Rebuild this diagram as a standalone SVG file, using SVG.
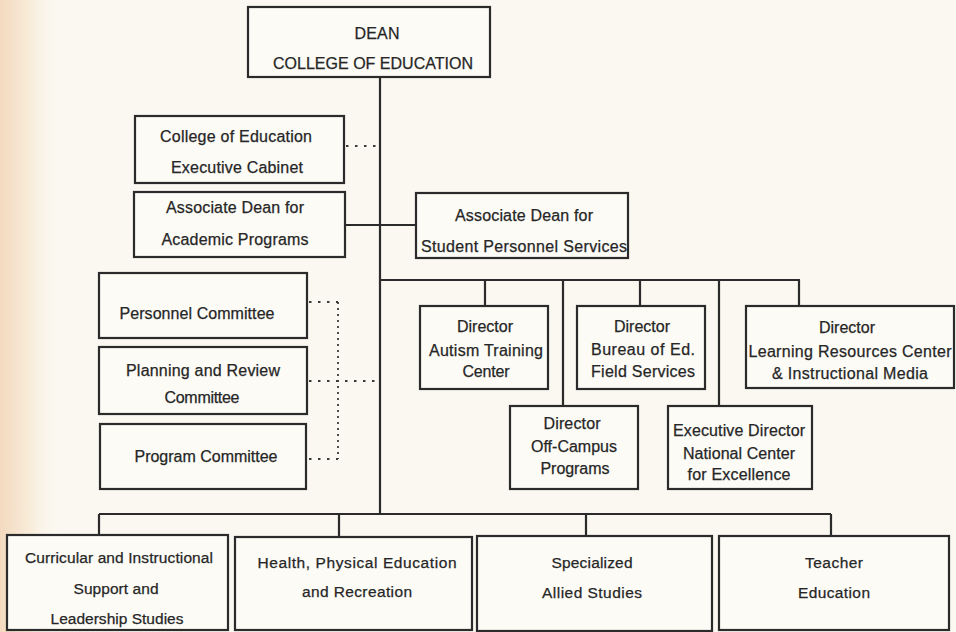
<svg xmlns="http://www.w3.org/2000/svg" width="956" height="632" viewBox="0 0 956 632">
<defs>
<linearGradient id="scan" x1="0" y1="0" x2="1" y2="0">
<stop offset="0" stop-color="#f3d9bf"/>
<stop offset="0.5" stop-color="#f8ecd9"/>
<stop offset="1" stop-color="#faf8f0" stop-opacity="0"/>
</linearGradient>
<style>
.bg{fill:#faf8f0}
.box{fill:#fcfbf6;stroke:#2b2b2b;stroke-width:2.2}
.ln{stroke:#2b2b2b;stroke-width:2.2;fill:none}
.dot{stroke:#3a3a3a;stroke-width:1.8;fill:none;stroke-dasharray:2 4}
.dotw{stroke:#3a3a3a;stroke-width:1.8;fill:none;stroke-dasharray:2.5 6.5}
text{font-family:"Liberation Sans",Arial,sans-serif;font-size:16px;fill:#262626;stroke:#262626;stroke-width:0.25;text-anchor:middle}
.sm{font-size:15.5px}
</style>
</defs>
<rect class="bg" x="0" y="0" width="956" height="632"/>
<rect x="0" y="0" width="60" height="632" fill="url(#scan)"/>
<g id="connectors">
<path class="ln" d="M380 77V514"/>
<path class="dotw" d="M346 146H380"/>
<path class="ln" d="M345 225H416"/>
<path class="ln" d="M380 280H800"/>
<path class="ln" d="M485 280V306M563 280V406M640 280V306M719 280V406M799 280V306"/>
<path class="dot" d="M338 302V459"/>
<path class="dotw" d="M309 302H338M309 459H338M309 381H380"/>
<path class="ln" d="M99 514H831M99 514V535M339 514V537M586 514V536M831 514V536"/>
</g>
<g id="dean"><rect class="box" x="248" y="7" width="242" height="70"/>
<text x="377" y="39" textLength="45" lengthAdjust="spacing">DEAN</text>
<text x="373" y="69" textLength="200" lengthAdjust="spacing">COLLEGE OF EDUCATION</text></g>
<g id="cabinet"><rect class="box" x="135" y="116" width="209" height="67"/>
<text x="236" y="142" textLength="152" lengthAdjust="spacing">College of Education</text>
<text x="237" y="173" textLength="132" lengthAdjust="spacing">Executive Cabinet</text></g>
<g id="assoc-academic"><rect class="box" x="134" y="192" width="211" height="65"/>
<text x="235" y="213" textLength="138" lengthAdjust="spacing">Associate Dean for</text>
<text x="235" y="245" textLength="147" lengthAdjust="spacing">Academic Programs</text></g>
<g id="assoc-student"><rect class="box" x="416" y="193" width="212" height="65"/>
<text x="524" y="221" textLength="138" lengthAdjust="spacing">Associate Dean for</text>
<text x="524" y="252" textLength="206" lengthAdjust="spacing">Student Personnel Services</text></g>
<g id="personnel"><rect class="box" x="99" y="273" width="208" height="65"/>
<text x="197" y="319" textLength="155" lengthAdjust="spacing">Personnel Committee</text></g>
<g id="planning"><rect class="box" x="99" y="347" width="208" height="67"/>
<text x="203" y="376" textLength="154" lengthAdjust="spacing">Planning and Review</text>
<text x="202" y="403" textLength="75" lengthAdjust="spacing">Committee</text></g>
<g id="program"><rect class="box" x="100" y="424" width="206" height="65"/>
<text x="206" y="462" textLength="143" lengthAdjust="spacing">Program Committee</text></g>
<g id="autism"><rect class="box" x="420" y="306" width="128" height="83"/>
<text x="485" y="332" textLength="56" lengthAdjust="spacing">Director</text>
<text x="486" y="356" textLength="114" lengthAdjust="spacing">Autism Training</text>
<text x="486" y="377" textLength="47" lengthAdjust="spacing">Center</text></g>
<g id="bureau"><rect class="box" x="577" y="306" width="128" height="83"/>
<text x="642" y="332" textLength="56" lengthAdjust="spacing">Director</text>
<text x="643" y="355" textLength="104" lengthAdjust="spacing">Bureau of Ed.</text>
<text x="643" y="377" textLength="104" lengthAdjust="spacing">Field Services</text></g>
<g id="learning"><rect class="box" x="746" y="306" width="208" height="82"/>
<text x="847" y="333" textLength="56" lengthAdjust="spacing">Director</text>
<text x="850" y="357" textLength="203" lengthAdjust="spacing">Learning Resources Center</text>
<text x="850" y="379" textLength="156" lengthAdjust="spacing">&amp; Instructional Media</text></g>
<g id="offcampus"><rect class="box" x="510" y="406" width="128" height="83"/>
<text x="572" y="429" textLength="57" lengthAdjust="spacing">Director</text>
<text x="574" y="452" textLength="86" lengthAdjust="spacing">Off-Campus</text>
<text x="575" y="474" textLength="69" lengthAdjust="spacing">Programs</text></g>
<g id="national"><rect class="box" x="668" y="406" width="144" height="83"/>
<text x="739" y="436" textLength="132" lengthAdjust="spacing">Executive Director</text>
<text x="739" y="459" textLength="112" lengthAdjust="spacing">National Center</text>
<text x="739" y="480" textLength="103" lengthAdjust="spacing">for Excellence</text></g>
<g id="curricular"><rect class="box" x="7" y="535" width="221" height="95"/>
<text class="sm" x="119" y="563" textLength="188" lengthAdjust="spacing">Curricular and Instructional</text>
<text class="sm" x="116" y="594" textLength="85" lengthAdjust="spacing">Support and</text>
<text class="sm" x="117" y="624" textLength="133" lengthAdjust="spacing">Leadership Studies</text></g>
<g id="health"><rect class="box" x="235" y="537" width="237" height="93"/>
<text class="sm" x="357" y="568" textLength="199" lengthAdjust="spacing">Health, Physical Education</text>
<text class="sm" x="357" y="597" textLength="110" lengthAdjust="spacing">and Recreation</text></g>
<g id="specialized"><rect class="box" x="477" y="536" width="235" height="95"/>
<text class="sm" x="592" y="568" textLength="81" lengthAdjust="spacing">Specialized</text>
<text class="sm" x="592" y="598" textLength="100" lengthAdjust="spacing">Allied Studies</text></g>
<g id="teacher"><rect class="box" x="719" y="536" width="230" height="94"/>
<text class="sm" x="834" y="568" textLength="58" lengthAdjust="spacing">Teacher</text>
<text class="sm" x="834" y="598" textLength="72" lengthAdjust="spacing">Education</text></g>
</svg>
